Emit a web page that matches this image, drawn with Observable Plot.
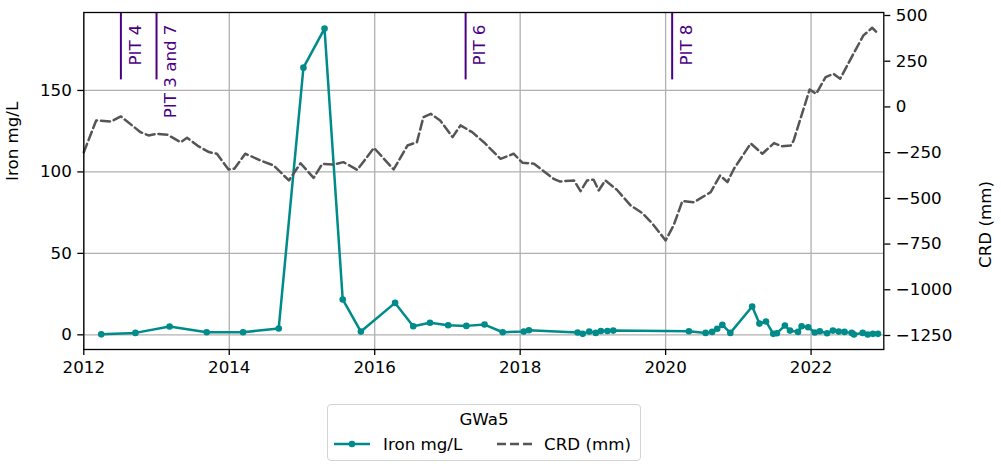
<!DOCTYPE html>
<html>
<head>
<meta charset="utf-8">
<script src="https://cdn.jsdelivr.net/npm/d3@7"></script>
<script src="https://cdn.jsdelivr.net/npm/@observablehq/plot@0.6"></script>
<style>
  html, body { margin: 0; padding: 0; background: white; }
  #wrap { position: relative; width: 1001px; height: 472px; font-family: "DejaVu Sans", sans-serif; }
  #legend { position: absolute; left: 327px; top: 404px; width: 312px; height: 55px;
            border: 1.3px solid #d3d3d3; border-radius: 4px; font-size: 16.7px; color: #000; background: white; }
  #legend .t { position: absolute; left: 0; width: 100%; text-align: center; top: 4px; line-height: 20px; }
  #legend .lab { position: absolute; top: 29px; line-height: 20px; white-space: nowrap; }
  #legend svg { position: absolute; top: 29px; }
</style>
</head>
<body>
<div id="wrap"><div id="chart"></div>
<div id="legend">
  <div class="t">GWa5</div>
  <svg width="40" height="20" style="left:5px"><line x1="1" x2="37" y1="10" y2="10" stroke="#008b8b" stroke-width="2.5"/><circle cx="19" cy="10" r="3.3" fill="#008b8b"/></svg>
  <div class="lab" style="left:55px">Iron mg/L</div>
  <svg width="40" height="20" style="left:168px"><line x1="1" x2="37" y1="10" y2="10" stroke="#555" stroke-width="2.5" stroke-dasharray="9,4"/></svg>
  <div class="lab" style="left:216px">CRD (mm)</div>
</div>
</div>
<script>
// ---- data ----
const ironYear = [2012.24, 2012.71, 2013.18, 2013.69, 2014.19, 2014.68, 2015.02, 2015.31, 2015.56, 2015.81,
  2016.28, 2016.53, 2016.76, 2017.01, 2017.26, 2017.51, 2017.76, 2018.05, 2018.12, 2018.79,
  2018.86, 2018.95, 2019.04, 2019.11, 2019.20, 2019.28, 2020.32, 2020.55, 2020.64, 2020.71,
  2020.78, 2020.89, 2021.19, 2021.29, 2021.38, 2021.48, 2021.53, 2021.64, 2021.71, 2021.82,
  2021.87, 2021.96, 2022.05, 2022.12, 2022.22, 2022.30, 2022.38, 2022.46, 2022.56, 2022.59,
  2022.71, 2022.78, 2022.85, 2022.92];
const ironValue = [0.3, 1.2, 5.1, 1.6, 1.6, 3.9, 164, 188, 21.7, 2.0,
  19.6, 5.3, 7.4, 5.9, 5.5, 6.3, 1.6, 2.0, 2.8, 1.4,
  0.6, 2.0, 1.2, 2.4, 2.4, 2.6, 2.2, 1.2, 1.8, 3.7,
  6.1, 1.2, 17.4, 6.9, 8.2, 0.6, 1.0, 5.7, 2.6, 1.8,
  5.3, 4.7, 1.4, 2.2, 1.0, 2.6, 2.0, 1.8, 1.2, 0.2,
  1.2, 0.2, 0.6, 0.6];

const crdYear = [2012.00, 2012.17, 2012.37, 2012.51, 2012.78, 2012.89,
  2013.01, 2013.15, 2013.33, 2013.42, 2013.58, 2013.72, 2013.83, 2013.99,
  2014.07, 2014.22, 2014.43, 2014.61, 2014.82, 2014.98,
  2015.16, 2015.28, 2015.44, 2015.57, 2015.76, 2015.99,
  2016.26, 2016.45, 2016.58, 2016.67, 2016.77, 2016.90,
  2017.07, 2017.18, 2017.34, 2017.50, 2017.73, 2017.91,
  2018.03, 2018.19, 2018.46, 2018.55, 2018.74, 2018.83, 2018.92,
  2019.01, 2019.08, 2019.17, 2019.33, 2019.52, 2019.68, 2019.82,
  2020.00, 2020.11, 2020.23, 2020.39, 2020.62, 2020.75, 2020.85, 2020.94,
  2021.17, 2021.33, 2021.49, 2021.60, 2021.72, 2021.76, 2021.98,
  2022.07, 2022.20, 2022.31, 2022.40, 2022.59, 2022.72, 2022.84, 2022.91];
const crdValue = [-248, -74, -80, -52, -138, -156,
  -147, -152, -193, -169, -216, -247, -256, -342,
  -338, -256, -293, -320, -402, -308,
  -388, -311, -315, -302, -344, -224,
  -342, -211, -193, -56, -38, -74,
  -165, -101, -138, -193, -284, -256,
  -305, -311, -393, -408, -402, -461, -402,
  -398, -457, -402, -453, -539, -581, -639,
  -730, -648, -515, -521, -466, -375, -411, -338,
  -200, -256, -198, -215, -211, -184, 95,
  72, 163, 181, 154, 296, 391, 433, 405];

const pitLabels = ["PIT 4", "PIT 3 and 7", "PIT 6", "PIT 8"];
const pitYear = [2012.51, 2013.00, 2017.25, 2020.09];

const xTicks = [2012, 2014, 2016, 2018, 2020, 2022];
const ironTicks = [0, 50, 100, 150];
const crdTicks = [-1250, -1000, -750, -500, -250, 0, 250, 500];

const xDomain = [2012, 2023];
const ironDomain = [-9.0, 197.85];
const crdDomain = [-1326.6, 516.4];

// ---- secondary axis mapping ----
const toIron = c => ironDomain[0] + (c - crdDomain[0]) / (crdDomain[1] - crdDomain[0]) * (ironDomain[1] - ironDomain[0]);
const fromIron = v => crdDomain[0] + (v - ironDomain[0]) / (ironDomain[1] - ironDomain[0]) * (crdDomain[1] - crdDomain[0]);
const fmtNum = v => (v < 0 ? "\u2212" + Math.abs(v) : String(v));

const iron = ironYear.map((t, i) => ({t, v: ironValue[i]}));
const crd = crdYear.map((t, i) => ({t, v: toIron(crdValue[i])}));
const pits = pitYear.map((t, i) => ({t, label: pitLabels[i]}));
const pitBottom = ironDomain[0] + 0.8 * (ironDomain[1] - ironDomain[0]);

const teal = "#008b8b";
const gridStyle = {stroke: "#b0b0b0", strokeOpacity: 1, strokeWidth: 1.3};

const chart = Plot.plot({
  width: 1001,
  height: 395,
  marginLeft: 83.3,
  marginRight: 117.7,
  marginTop: 12,
  marginBottom: 46,
  style: {fontFamily: "DejaVu Sans", fontSize: "16.7px", background: "white", color: "black", overflow: "visible"},
  x: {domain: xDomain},
  y: {domain: ironDomain},
  marks: [
    Plot.gridX(xTicks, gridStyle),
    Plot.gridY(ironTicks, gridStyle),
    Plot.axisX(xTicks, {tickFormat: d => String(d), tickSize: 6, tickPadding: 6, strokeWidth: 1.3, label: null}),
    Plot.axisY(ironTicks, {anchor: "left", tickFormat: d => String(d), tickSize: 6, tickPadding: 6, strokeWidth: 1.3, label: null}),
    Plot.axisY(crdTicks.map(toIron), {anchor: "right", tickFormat: d => fmtNum(Math.round(fromIron(d))), tickSize: 6, tickPadding: 6, strokeWidth: 1.3, label: null}),
    Plot.text(["Iron mg/L"], {frameAnchor: "left", text: d => d, rotate: -90, dx: -71, fill: "black"}),
    Plot.text(["CRD (mm)"], {frameAnchor: "right", text: d => d, rotate: -90, dx: 101.7, fill: "black"}),
    Plot.line(iron, {x: "t", y: "v", stroke: teal, strokeWidth: 2.5}),
    Plot.dot(iron, {x: "t", y: "v", r: 3.3, fill: teal, stroke: null}),
    Plot.ruleX(pits, {x: "t", y1: pitBottom, y2: ironDomain[1], stroke: "indigo", strokeWidth: 2}),
    Plot.text(pits, {x: "t", frameAnchor: "top", text: "label", rotate: -90, textAnchor: "end", dx: 8, dy: 12, fill: "indigo"}),
    Plot.line(crd, {x: "t", y: "v", stroke: "#555", strokeWidth: 2.5, strokeDasharray: "9,4"}),
    Plot.frame({stroke: "black", strokeWidth: 1.3})
  ]
});
document.getElementById("chart").appendChild(chart);
</script>
</body>
</html>
